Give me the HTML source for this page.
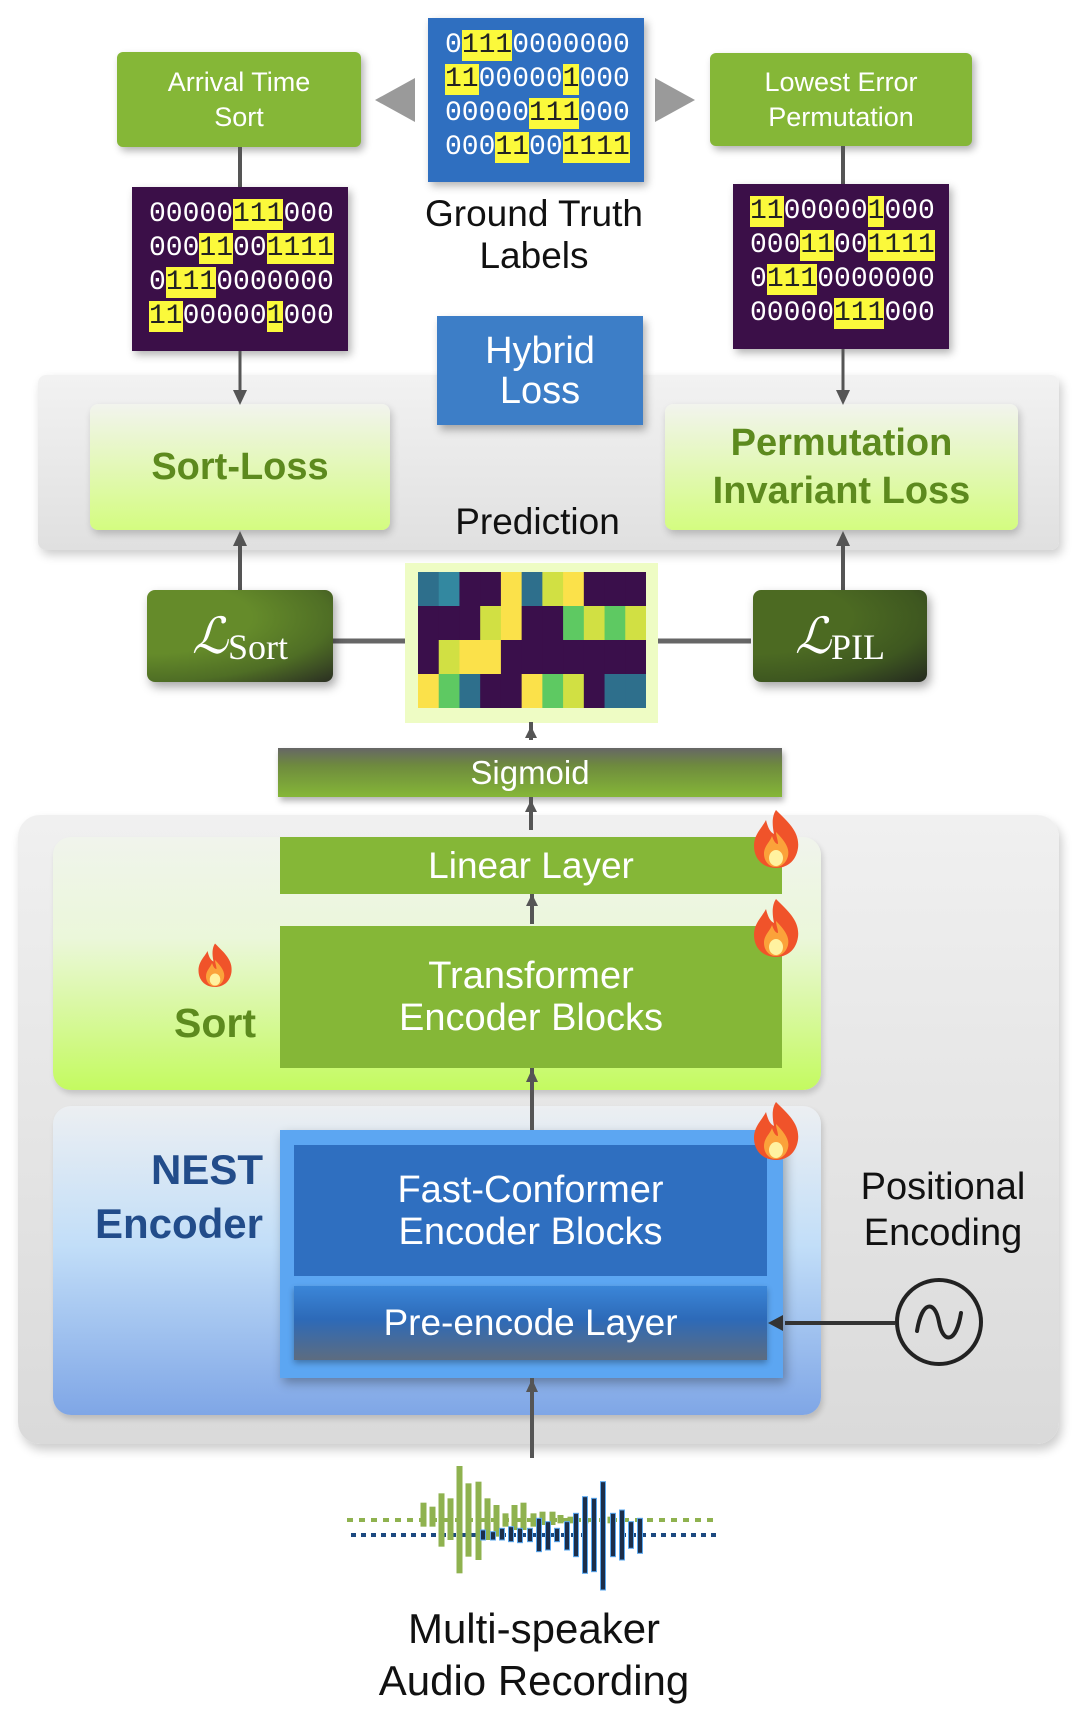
<!DOCTYPE html>
<html><head><meta charset="utf-8"><style>
*{margin:0;padding:0;box-sizing:border-box}
body{width:1086px;height:1722px;background:#fff;position:relative;overflow:hidden;font-family:"Liberation Sans","DejaVu Sans",sans-serif}
.a{position:absolute}
.c{display:flex;align-items:center;justify-content:center;text-align:center}
.gbox{background:#85b737;color:#fff;border-radius:6px;font-size:27px;line-height:35px;box-shadow:3px 4px 8px rgba(0,0,0,.3)}
.mat{background:#3b0f48;font-family:"Liberation Mono","DejaVu Sans Mono",monospace;font-size:28px;color:#fff;box-shadow:3px 4px 8px rgba(0,0,0,.3)}
.mat div{height:34px;line-height:34px;white-space:pre}
.mat b{font-weight:normal;background:#fbf93b;color:#222}
.lossbox{border-radius:8px;background:linear-gradient(#f2f4ee,#d4fc80);color:#5d8a1e;font-weight:bold;font-size:38px;line-height:48px;box-shadow:2px 4px 8px rgba(0,0,0,.2)}
.lbox{border-radius:8px;color:#fff;font-family:"Liberation Serif","DejaVu Serif",serif;box-shadow:3px 5px 10px rgba(0,0,0,.35)}
</style></head><body>

<div class="a c gbox" style="left:117px;top:52px;width:244px;height:95px">Arrival Time<br>Sort</div>
<div class="a c gbox" style="left:710px;top:53px;width:262px;height:93px">Lowest Error<br>Permutation</div>
<svg class="a" style="left:0;top:0" width="1086" height="1722">
<polygon points="415,78 415,122 375,100" fill="#9a9a9a"/>
<polygon points="655,78 655,122 695,100" fill="#9a9a9a"/>
<line x1="240" y1="147" x2="240" y2="187" stroke="#555" stroke-width="4"/>
<line x1="843" y1="146" x2="843" y2="184" stroke="#555" stroke-width="4"/>
<line x1="333" y1="641" x2="405" y2="641" stroke="#666" stroke-width="5"/>
<line x1="657" y1="641" x2="751" y2="641" stroke="#666" stroke-width="5"/>
</svg>

<div class="a" style="left:428px;top:18px;width:216px;height:164px;background:#2f6fc0;box-shadow:3px 4px 8px rgba(0,0,0,.3)">
 <div class="mat" style="background:none;box-shadow:none;padding:11px 0 0 17px">
  <div>0<b>111</b>0000000</div><div><b>11</b>00000<b>1</b>000</div><div>00000<b>111</b>000</div><div>000<b>11</b>00<b>1111</b></div>
 </div>
</div>
<div class="a mat" style="left:132px;top:187px;width:216px;height:164px;padding:11px 0 0 17px">
 <div>00000<b>111</b>000</div><div>000<b>11</b>00<b>1111</b></div><div>0<b>111</b>0000000</div><div><b>11</b>00000<b>1</b>000</div>
</div>
<div class="a mat" style="left:733px;top:184px;width:216px;height:165px;padding:11px 0 0 17px">
 <div><b>11</b>00000<b>1</b>000</div><div>000<b>11</b>00<b>1111</b></div><div>0<b>111</b>0000000</div><div>00000<b>111</b>000</div>
</div>
<div class="a c" style="left:384px;top:190px;width:300px;height:90px;font-size:37px;line-height:42px;color:#111">Ground Truth<br>Labels</div>

<div class="a" style="left:38px;top:375px;width:1021px;height:175px;background:linear-gradient(#f2f2f2,#e0e0e0);border-radius:8px;box-shadow:3px 5px 10px rgba(0,0,0,.2)"></div>
<div class="a c lossbox" style="left:90px;top:404px;width:300px;height:126px">Sort-Loss</div>
<div class="a c lossbox" style="left:665px;top:404px;width:353px;height:126px">Permutation<br>Invariant Loss</div>
<div class="a c" style="left:437px;top:316px;width:206px;height:109px;background:#3d7ec7;color:#fff;font-size:38px;line-height:40px;box-shadow:3px 5px 8px rgba(0,0,0,.3)">Hybrid<br>Loss</div>
<div class="a c" style="left:390px;top:498px;width:295px;height:48px;font-size:37px;color:#111">Prediction</div>

<svg class="a" style="left:0;top:0" width="1086" height="1722">
<line x1="240" y1="351" x2="240" y2="395" stroke="#555" stroke-width="3"/>
<polygon points="233,390 247,390 240,405" fill="#555"/>
<line x1="843" y1="349" x2="843" y2="395" stroke="#555" stroke-width="3"/>
<polygon points="836,390 850,390 843,405" fill="#555"/>
<line x1="240" y1="594" x2="240" y2="540" stroke="#555" stroke-width="4"/>
<polygon points="233,546 247,546 240,531" fill="#555"/>
<line x1="843" y1="594" x2="843" y2="540" stroke="#555" stroke-width="4"/>
<polygon points="836,546 850,546 843,531" fill="#555"/>
</svg>

<div class="a" style="left:405px;top:563px;width:253px;height:160px;background:#eefcc4"></div>
<svg class="a" style="left:418px;top:572px" width="228" height="136" id="hm"></svg>

<div class="a c lbox" style="left:147px;top:590px;width:186px;height:92px;background:radial-gradient(ellipse at 0% 30%,#658b2a 40%,#4f6e25 70%,#2a2e22 100%)"><span style="font-size:50px;font-style:italic">ℒ</span><span style="font-size:36px;margin-top:22px">Sort</span></div>
<div class="a c lbox" style="left:753px;top:590px;width:174px;height:92px;background:radial-gradient(ellipse at 0% 30%,#4c6a22 40%,#3e5720 70%,#24291f 100%)"><span style="font-size:50px;font-style:italic">ℒ</span><span style="font-size:36px;margin-top:22px">PIL</span></div>

<div class="a c" style="left:278px;top:748px;width:504px;height:49px;background:linear-gradient(#666 0%,#6e8a3e 35%,#85b737 100%);color:#fff;font-size:33px;box-shadow:2px 4px 6px rgba(0,0,0,.3)">Sigmoid</div>

<div class="a" style="left:18px;top:815px;width:1041px;height:629px;background:linear-gradient(#f0f0f0,#dadada);border-radius:22px;box-shadow:3px 6px 10px rgba(0,0,0,.2)"></div>
<div class="a" style="left:53px;top:837px;width:768px;height:253px;background:linear-gradient(#f0f4ec,#ebf7da 40%,#c4fa60);border-radius:18px;box-shadow:2px 4px 6px rgba(0,0,0,.15)"></div>
<div class="a" style="left:53px;top:1106px;width:768px;height:309px;background:linear-gradient(#eceff2,#c2def8 45%,#7fa6e6);border-radius:18px;box-shadow:2px 4px 6px rgba(0,0,0,.15)"></div>

<div class="a c" style="left:280px;top:837px;width:502px;height:57px;background:#85b737;color:#fff;font-size:37px">Linear Layer</div>
<div class="a c" style="left:280px;top:926px;width:502px;height:142px;background:#85b737;color:#fff;font-size:38px;line-height:42px">Transformer<br>Encoder Blocks</div>
<div class="a" style="left:150px;top:1000px;width:130px;font-size:41px;color:#5d8a1e;font-weight:bold;text-align:center">Sort</div>

<div class="a" style="left:280px;top:1130px;width:503px;height:248px;background:#5ca6f2;box-shadow:3px 5px 10px rgba(0,0,0,.3)"></div>
<div class="a c" style="left:294px;top:1145px;width:473px;height:131px;background:#2f6fc0;color:#fff;font-size:38px;line-height:42px">Fast-Conformer<br>Encoder Blocks</div>
<div class="a c" style="left:294px;top:1286px;width:473px;height:74px;background:linear-gradient(#3b86d8,#2d6ab8 45%,#5d6c80);color:#fff;font-size:37px;box-shadow:0 3px 6px rgba(0,0,0,.3)">Pre-encode Layer</div>
<div class="a" style="left:60px;top:1143px;width:203px;text-align:right;font-size:42px;line-height:54px;color:#224c8a;font-weight:bold">NEST<br>Encoder</div>
<div class="a c" style="left:823px;top:1162px;width:240px;height:96px;font-size:38px;line-height:46px;color:#111">Positional<br>Encoding</div>

<svg class="a" style="left:0;top:0" width="1086" height="1722">
<line x1="531" y1="722" x2="531" y2="740" stroke="#555" stroke-width="4"/><polygon points="525,738 537,738 531,726" fill="#555"/>
<line x1="531" y1="797" x2="531" y2="830" stroke="#555" stroke-width="4"/><polygon points="525,812 537,812 531,800" fill="#555"/>
<line x1="532" y1="894" x2="532" y2="924" stroke="#555" stroke-width="4"/><polygon points="526,906 538,906 532,894" fill="#555"/>
<line x1="532" y1="1068" x2="532" y2="1130" stroke="#555" stroke-width="4"/><polygon points="526,1082 538,1082 532,1069" fill="#555"/>
<line x1="532" y1="1378" x2="532" y2="1458" stroke="#555" stroke-width="4"/><polygon points="526,1392 538,1392 532,1379" fill="#555"/>
<line x1="895" y1="1323" x2="785" y2="1323" stroke="#333" stroke-width="4"/><polygon points="768,1323 783,1315 783,1331" fill="#333"/>
<circle cx="939" cy="1322" r="42" fill="none" stroke="#222" stroke-width="4"/>
<path d="M917,1331 C922,1300 935,1300 939,1322 C943,1344 956,1344 961,1313" fill="none" stroke="#222" stroke-width="4" stroke-linecap="round"/>
<g id="flames"></g>
<g id="wave"></g>
</svg>

<div class="a c" style="left:314px;top:1603px;width:440px;height:104px;font-size:42px;line-height:52px;color:#111">Multi-speaker<br>Audio Recording</div>

<script>
var P='#3a0f4b',T='#2e6f8c',T2='#3388a0',Y='#fbe14a',G='#5ec962',V='#d1e043';
var rows=[[T,T2,P,P,Y,T,V,Y,P,P,P],[P,P,P,V,Y,P,P,G,V,G,V],[P,V,Y,Y,P,P,P,P,P,P,P],[Y,G,T,P,P,Y,G,V,P,T,T]];
var s='';var w=228/11,h=34;
rows.forEach(function(r,i){r.forEach(function(c,j){s+='<rect x="'+(j*w).toFixed(2)+'" y="'+i*h+'" width="'+(w+0.6).toFixed(2)+'" height="'+(h+0.5)+'" fill="'+c+'"/>';});});
document.getElementById('hm').innerHTML=s;
function flame(x,y,sc){return '<g transform="translate('+x+','+y+') scale('+sc+')"><path d="M0,-30 C12,-18 24,-8 22,8 C20,22 10,28 0,28 C-14,28 -22,18 -22,6 C-22,-6 -14,-12 -10,-20 C-8,-12 -6,-8 -2,-6 C-4,-16 -4,-24 0,-30Z" fill="#f0532a"/><path d="M0,-8 C8,0 14,8 12,16 C10,24 4,27 0,27 C-8,27 -12,20 -12,14 C-12,6 -6,2 -4,-4 C-2,2 0,4 2,4 C2,0 0,-4 0,-8Z" fill="#fba23a"/><ellipse cx="0" cy="18" rx="7" ry="8" fill="#fff2a0"/></g>';}
document.getElementById('flames').innerHTML=flame(776,840,1)+flame(776,929,1)+flame(776,1132,1)+flame(215,966,0.75);
var g=[[83,128,200],[92,140,200],[101,100,260],[110,115,240],[119,18,340],[128,70,290],[138,65,300],[147,115,240],[156,135,230],[165,160,200],[174,135,210],[183,128,210],[193,160,200],[202,155,195],[212,155,195],[220,165,190],[230,170,190],[245,175,190],[270,170,190]];
var b=[[143,210,240],[153,215,240],[162,205,240],[171,200,245],[180,205,248],[190,205,245],[199,175,275],[208,185,270],[217,205,245],[227,185,270],[236,160,290],[245,110,340],[254,115,335],[263,65,390],[273,160,290],[282,150,300],[291,185,265],[300,175,280]];
var o='<line x1="347" y1="1520" x2="715" y2="1520" stroke="#8fb24f" stroke-width="4" stroke-dasharray="6,6"/><line x1="351" y1="1535" x2="717" y2="1535" stroke="#1d4a80" stroke-width="4" stroke-dasharray="5,5"/>';
g.forEach(function(v){o+='<rect x="'+(340+v[0]-2.5)+'" y="'+(1460+v[1]/3)+'" width="6" height="'+((v[2]-v[1])/3)+'" fill="#8fb24f"/>';});
b.forEach(function(v){o+='<rect x="'+(340+v[0]-2.5)+'" y="'+(1460+v[1]/3)+'" width="5" height="'+((v[2]-v[1])/3)+'" fill="#1c2e4a" stroke="#5aa8f0" stroke-width="1"/>';});
document.getElementById('wave').innerHTML=o;
</script>
</body></html>
